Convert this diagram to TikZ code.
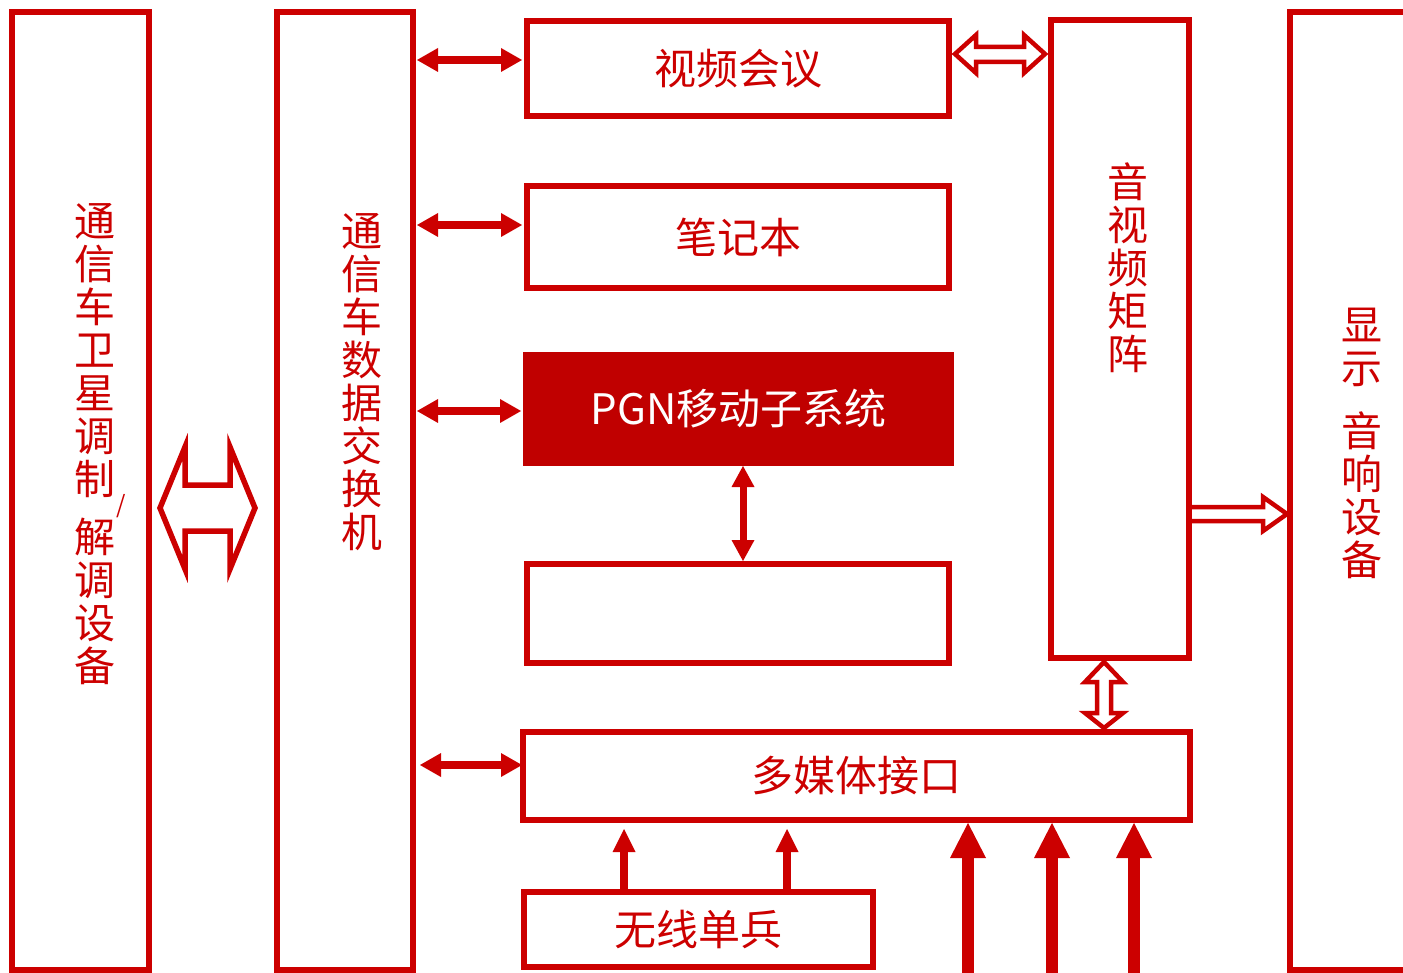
\documentclass[tikz,border=0pt]{standalone}
\usepackage{fontspec}
\setmainfont{Noto Sans CJK SC}
\usetikzlibrary{arrows.meta,calc}
\definecolor{rd}{HTML}{CC0000}
\definecolor{fillrd}{HTML}{C00000}
\begin{document}
\begin{tikzpicture}[x=1pt,y=-1pt,
  box/.style={draw=rd,line width=5.5pt,inner sep=0pt,outer sep=0pt,text=rd,font=\fontsize{42}{42}\selectfont},
  fillbox/.style={fill=fillrd,draw=none,inner sep=0pt,outer sep=0pt,text=white,font=\fontsize{42}{42}\selectfont},
  vlbl/.style={text=rd,font=\fontsize{41}{43}\selectfont,align=center,anchor=north,inner sep=0pt},
  dbl/.style={draw=rd,line width=8pt,{Triangle[length=21pt,width=24pt,line width=0pt]}-{Triangle[length=21pt,width=24pt,line width=0pt]}},
  vdbl/.style={draw=rd,line width=7pt,{Triangle[length=21pt,width=23pt,line width=0pt]}-{Triangle[length=21pt,width=23pt,line width=0pt]}},
  smup/.style={draw=rd,line width=8pt,-{Triangle[length=23pt,width=23pt,line width=0pt]}},
  bigup/.style={draw=rd,line width=12pt,-{Triangle[length=35pt,width=36pt,line width=0pt]}},
  hollow/.style={draw=rd,line width=4.5pt,fill=white,line join=miter},
]
\useasboundingbox (0,0) rectangle (1403,973);
% boxes
\node[box,minimum width=137pt,minimum height=958pt] (sat) at (80.5,491) {};
\node[box,minimum width=136pt,minimum height=958pt] (sw) at (345,491) {};
\node[box,minimum width=130pt,minimum height=958pt] (disp) at (1355,491) {};
\node[box,minimum width=422pt,minimum height=95pt] (vc) at (738,68.5) {视频会议};
\node[box,minimum width=422pt,minimum height=102pt] (nb) at (738,237) {笔记本};
\node[fillbox,minimum width=431pt,minimum height=114pt] (pgn) at (738.5,409) {PGN移动子系统};
\node[box,minimum width=422pt,minimum height=99pt] (emp) at (738,613.5) {};
\node[box,minimum width=138pt,minimum height=638pt] (avm) at (1120,339) {};
\node[box,minimum width=667pt,minimum height=88pt] (mm) at (856.5,776) {多媒体接口};
\node[box,minimum width=349pt,minimum height=75pt] (wx) at (698.5,929.5) {无线单兵};
% vertical labels
\node[vlbl] (satla) at (95,203) {通\\信\\车\\卫\\星\\调\\制};
\node[text=rd,font=\fontsize{24}{24}\selectfont,inner sep=0pt] (slash) at (121,506) {/};
\node[vlbl] (satlb) at (95,518) {解\\调\\设\\备};
\node[vlbl] (swl) at (362,213) {通\\信\\车\\数\\据\\交\\换\\机};
\node[vlbl] (avml) at (1128,163) {音\\视\\频\\矩\\阵};
\node[vlbl] (displ) at (1362,308) {显\\示\\[20pt]音\\响\\设\\备};
% solid double arrows from switch
\draw[dbl,shorten <=4pt,shorten >=5pt] (sw.east |- 0,60) -- (vc.west |- 0,60);
\draw[dbl,shorten <=4pt,shorten >=5pt] (sw.east |- 0,225) -- (nb.west |- 0,225);
\draw[dbl,shorten <=4pt,shorten >=2pt] (sw.east |- 0,411) -- (pgn.west |- 0,411);
\draw[dbl,shorten <=7pt,shorten >=1pt] (sw.east |- 0,765) -- (mm.west |- 0,765);
% PGN <-> empty box
\draw[vdbl,shorten >=3pt] (pgn.south -| 743,0) -- (emp.north -| 743,0);
% small up arrows
\draw[smup,shorten >=9pt] (wx.north -| 624,0) -- (mm.south -| 624,0);
\draw[smup,shorten >=9pt] (wx.north -| 787,0) -- (mm.south -| 787,0);
% big up arrows
\coordinate (b1) at (968,980);
\coordinate (b2) at (1052,980);
\coordinate (b3) at (1134,980);
\draw[bigup,shorten >=3pt] (b1) -- (mm.south -| b1);
\draw[bigup,shorten >=3pt] (b2) -- (mm.south -| b2);
\draw[bigup,shorten >=3pt] (b3) -- (mm.south -| b3);
% hollow arrows
\draw[hollow,line width=5.5pt] (160,508) -- (185,447) -- (185,485) -- (230,485) -- (230,447) -- (255,508) -- (230,569) -- (230,531) -- (185,531) -- (185,569) -- cycle;
\draw[hollow] (955,54) -- (976,35) -- (976,47) -- (1024,47) -- (1024,35) -- (1045,54) -- (1024,73) -- (1024,62) -- (976,62) -- (976,73) -- cycle;
\draw[hollow] (1192,507) -- (1263,507) -- (1263,497) -- (1287,514) -- (1263,531) -- (1263,521) -- (1192,521);
\draw[hollow] (1104,662) -- (1123,682) -- (1111,682) -- (1111,713) -- (1123,713) -- (1104,728) -- (1085,713) -- (1097,713) -- (1097,682) -- (1085,682) -- cycle;
\end{tikzpicture}
\end{document}
